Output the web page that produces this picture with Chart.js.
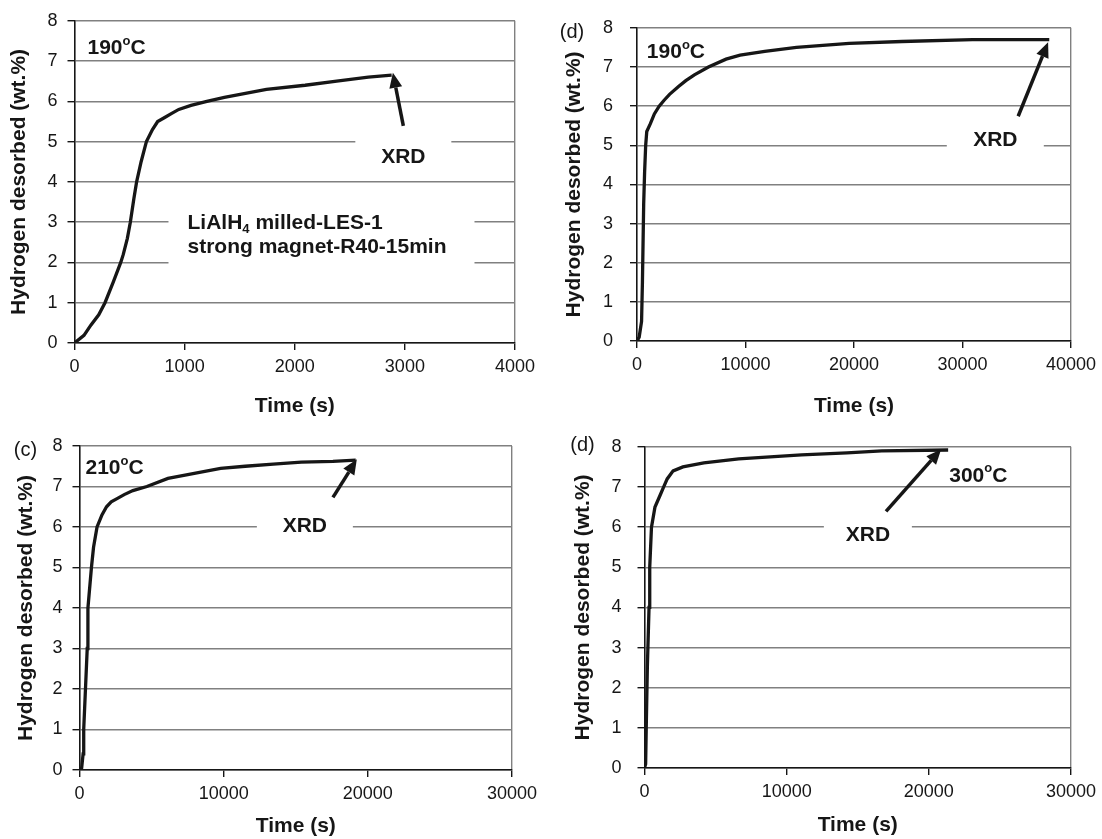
<!doctype html>
<html>

<head>
	<title>Hydrogen desorption curves</title>
	<script src="https://cdn.jsdelivr.net/npm/chart.js@4/dist/chart.umd.min.js"></script>
	<style>
		body { margin: 0; background: #fff; }
		.panel { position: absolute; }
	</style>
</head>

<body>
	<div class="panel" style="left:0;top:0;width:550px;height:420px"><canvas id="p1"></canvas></div>
	<div class="panel" style="left:550px;top:0;width:552px;height:420px"><canvas id="p2"></canvas></div>
	<div class="panel" style="left:0;top:420px;width:550px;height:419px"><canvas id="p3"></canvas></div>
	<div class="panel" style="left:550px;top:420px;width:552px;height:419px"><canvas id="p4"></canvas></div>

	<script>
		const FONT = "'Liberation Sans', Arial, sans-serif";
		const INK = '#161616';
		const GRID = '#808080';

		// values: time (s) and hydrogen desorbed (wt.%)
		const p1Time = [0, 86, 150, 220, 277, 350, 420, 443, 480, 507, 540, 564, 605, 653, 708, 755, 819, 883, 947, 1058, 1202, 1361, 1552, 1743, 2094, 2381, 2668, 2880];
		const p1H2 = [0, 0.19, 0.45, 0.7, 1.0, 1.5, 2.0, 2.2, 2.6, 3.0, 3.6, 4.0, 4.5, 5.0, 5.3, 5.5, 5.6, 5.7, 5.8, 5.9, 6.0, 6.1, 6.2, 6.3, 6.4, 6.5, 6.6, 6.65];

		const p2Time = [0, 200, 420, 500, 616, 700, 800, 900, 1233, 1600, 2044, 2500, 3000, 3828, 4500, 5288, 6585, 8208, 9505, 11776, 14696, 19562, 24428, 30916, 38000];
		const p2H2 = [0, 0.1, 0.5, 1.5, 3.5, 4.3, 5.0, 5.35, 5.55, 5.8, 6.0, 6.15, 6.3, 6.5, 6.65, 6.8, 7.0, 7.2, 7.3, 7.4, 7.5, 7.6, 7.65, 7.7, 7.7];

		const p3Time = [0, 150, 250, 292, 414, 536, 584, 828, 974, 1217, 1558, 1875, 2200, 2605, 3100, 3701, 4675, 6136, 7597, 9788, 11493, 13440, 15388, 17580, 19160];
		const p3H2 = [0, 0.05, 0.4, 1.0, 2.0, 3.0, 4.0, 5.0, 5.5, 6.0, 6.3, 6.5, 6.62, 6.7, 6.8, 6.9, 7.0, 7.2, 7.3, 7.45, 7.5, 7.55, 7.6, 7.62, 7.65];

		const p4Time = [0, 80, 123, 200, 319, 368, 491, 737, 1105, 1350, 1596, 2013, 2701, 4174, 6629, 11049, 14240, 16695, 21360];
		const p4H2 = [0, 0.1, 1.0, 2.5, 4.0, 5.0, 6.0, 6.5, 6.8, 7.0, 7.2, 7.4, 7.5, 7.6, 7.7, 7.8, 7.85, 7.9, 7.92];

		const yTicks = [0, 1, 2, 3, 4, 5, 6, 7, 8];

		function drawParts(ctx, x, y, parts, size, weight, align) {
			const big = `${weight} ${size}px ${FONT}`;
			const small = `${weight} ${Math.round(size * 0.62)}px ${FONT}`;
			let w = 0;
			parts.forEach(p => { ctx.font = p.s ? small : big; w += ctx.measureText(p.t).width; });
			let cx = align === 'center' ? x - w / 2 : x;
			ctx.textAlign = 'left';
			ctx.textBaseline = 'middle';
			parts.forEach(p => {
				ctx.font = p.s ? small : big;
				const dy = p.s === 'sup' ? -size * 0.33 : p.s === 'sub' ? size * 0.3 : 0;
				ctx.fillText(p.t, cx, y + dy);
				cx += ctx.measureText(p.t).width;
			});
		}

		// white label boxes, texts and arrows placed in data coordinates
		function notesPlugin(notes) {
			return {
				id: 'notes',
				beforeDatasetsDraw(chart) {
					const { ctx, scales: { x, y } } = chart;
					ctx.save();
					ctx.fillStyle = '#fff';
					notes.boxes.forEach(b => {
						const px = x.getPixelForValue(b.t) + b.dx;
						const py = y.getPixelForValue(b.v) + b.dy;
						ctx.fillRect(px, py, b.w, b.h);
					});
					ctx.restore();
				},
				afterDatasetsDraw(chart) {
					const { ctx, scales: { x, y } } = chart;
					ctx.save();
					ctx.fillStyle = INK;
					notes.texts.forEach(n => {
						const px = x.getPixelForValue(n.t) + (n.dx || 0);
						const py = y.getPixelForValue(n.v);
						drawParts(ctx, px, py, n.parts, n.size || 21, n.weight || 'bold', n.align || 'left');
					});
					notes.arrows.forEach(a => {
						const x1 = x.getPixelForValue(a.t1), y1 = y.getPixelForValue(a.v1);
						const x2 = x.getPixelForValue(a.t2), y2 = y.getPixelForValue(a.v2);
						const ang = Math.atan2(y2 - y1, x2 - x1);
						const head = 15, half = 6.5;
						const bx = x2 - head * Math.cos(ang), by = y2 - head * Math.sin(ang);
						ctx.strokeStyle = INK;
						ctx.lineWidth = 3.5;
						ctx.beginPath();
						ctx.moveTo(x1, y1);
						ctx.lineTo(bx, by);
						ctx.stroke();
						ctx.beginPath();
						ctx.moveTo(x2, y2);
						ctx.lineTo(bx + half * Math.sin(ang), by - half * Math.cos(ang));
						ctx.lineTo(bx - half * Math.sin(ang), by + half * Math.cos(ang));
						ctx.closePath();
						ctx.fill();
					});
					ctx.restore();
				}
			};
		}

		function makePanel(id, times, values, xMax, xStep, geo, notes) {
			const ctx = document.getElementById(id).getContext('2d');
			return new Chart(ctx, {
				type: 'line',
				data: {
					datasets: [{
						data: times.map((t, i) => ({ x: t, y: values[i] })),
						borderColor: INK,
						borderWidth: 3.3,
						pointRadius: 0,
						tension: 0,
						fill: false
					}]
				},
				options: {
					maintainAspectRatio: false,
					animation: false,
					layout: { padding: { left: 0, top: geo.top, right: geo.right, bottom: 0 } },
					plugins: {
						legend: { display: false },
						tooltip: { enabled: false }
					},
					scales: {
						x: {
							type: 'linear',
							min: 0,
							max: xMax,
							ticks: {
								stepSize: xStep,
								color: INK,
								font: { family: FONT, size: 18 },
								padding: 6,
								maxRotation: 0,
								autoSkip: false,
								callback: v => String(v)
							},
							grid: {
								color: c => (c.tick && c.tick.value === xMax ? GRID : 'rgba(0,0,0,0)'),
								lineWidth: 1.4,
								tickColor: INK,
								tickLength: 7,
								tickWidth: 1.4
							},
							border: { color: INK, width: 1.6 },
							title: {
								display: true,
								text: 'Time (s)',
								color: INK,
								font: { family: FONT, size: 21, weight: 'bold' },
								padding: { top: 0, bottom: geo.xTitlePad }
							},
							afterFit: s => { s.height = geo.xAxisH; }
						},
						y: {
							type: 'linear',
							min: 0,
							max: 8,
							afterBuildTicks: s => { s.ticks = yTicks.map(v => ({ value: v })); },
							ticks: {
								color: INK,
								font: { family: FONT, size: 18 },
								padding: geo.yTickPad
							},
							grid: {
								color: GRID,
								lineWidth: 1.4,
								tickColor: INK,
								tickLength: 7,
								tickWidth: 1.4
							},
							border: { color: INK, width: 1.6 },
							title: {
								display: true,
								text: 'Hydrogen desorbed (wt.%)',
								color: INK,
								font: { family: FONT, size: 21, weight: 'bold' },
								padding: { top: geo.yTitlePad, bottom: 0 }
							},
							afterFit: s => { s.width = geo.yAxisW; }
						}
					}
				},
				plugins: [notesPlugin(notes)]
			});
		}

		const deg = t => [{ t: t }, { t: 'o', s: 'sup' }, { t: 'C' }];
		const xrdBox = (t, v, w) => ({ t: t, v: v, dx: -w / 2, dy: -24, w: w, h: 44 });

		makePanel('p1', p1Time, p1H2, 4000, 1000,
			{ top: 16, right: 35, yAxisW: 74.5, xAxisH: 77, yTitlePad: 7, xTitlePad: 1, yTickPad: 10 },
			{
				boxes: [xrdBox(2986, 4.62, 96), { t: 1026, v: 2.97, dx: -19, dy: -26, w: 306, h: 82 }],
				texts: [
					{ t: 118, v: 7.32, parts: deg('190') },
					{ t: 2986, v: 4.62, parts: [{ t: 'XRD' }], align: 'center' },
					{ t: 1026, v: 2.97, parts: [{ t: 'LiAlH' }, { t: '4', s: 'sub' }, { t: ' milled-LES-1' }] },
					{ t: 1026, v: 2.37, parts: [{ t: 'strong magnet-R40-15min' }] }
				],
				arrows: [{ t1: 2986, v1: 5.39, t2: 2891, v2: 6.71 }]
			});

		makePanel('p2', p2Time, p2H2, 40000, 10000,
			{ top: 17, right: 31, yAxisW: 87, xAxisH: 79, yTitlePad: 12, xTitlePad: 1, yTickPad: 17 },
			{
				boxes: [xrdBox(33025, 5.14, 97)],
				texts: [
					{ t: 0, dx: -65, v: 7.88, parts: [{ t: '(d)' }], weight: 'normal', size: 20, align: 'center' },
					{ t: 908, v: 7.38, parts: deg('190') },
					{ t: 33025, v: 5.14, parts: [{ t: 'XRD' }], align: 'center' }
				],
				arrows: [{ t1: 35134, v1: 5.74, t2: 37892, v2: 7.63 }]
			});

		makePanel('p3', p3Time, p3H2, 30000, 10000,
			{ top: 26, right: 38, yAxisW: 79.5, xAxisH: 69, yTitlePad: 14, xTitlePad: 0, yTickPad: 10 },
			{
				boxes: [xrdBox(15632, 6.03, 96)],
				texts: [
					{ t: 0, dx: -54, v: 7.88, parts: [{ t: '(c)' }], weight: 'normal', size: 20, align: 'center' },
					{ t: 414, v: 7.45, parts: deg('210') },
					{ t: 15632, v: 6.03, parts: [{ t: 'XRD' }], align: 'center' }
				],
				arrows: [{ t1: 17580, v1: 6.73, t2: 19236, v2: 7.67 }]
			});

		makePanel('p4', p4Time, p4H2, 30000, 10000,
			{ top: 26, right: 27, yAxisW: 94.5, xAxisH: 71, yTitlePad: 21, xTitlePad: 1, yTickPad: 16 },
			{
				boxes: [xrdBox(15713, 5.80, 88)],
				texts: [
					{ t: 0, dx: -62, v: 8.03, parts: [{ t: '(d)' }], weight: 'normal', size: 20, align: 'center' },
					{ t: 21434, v: 7.28, parts: deg('300') },
					{ t: 15713, v: 5.80, parts: [{ t: 'XRD' }], align: 'center' }
				],
				arrows: [{ t1: 16990, v1: 6.39, t2: 20869, v2: 7.94 }]
			});
	</script>
</body>

</html>
